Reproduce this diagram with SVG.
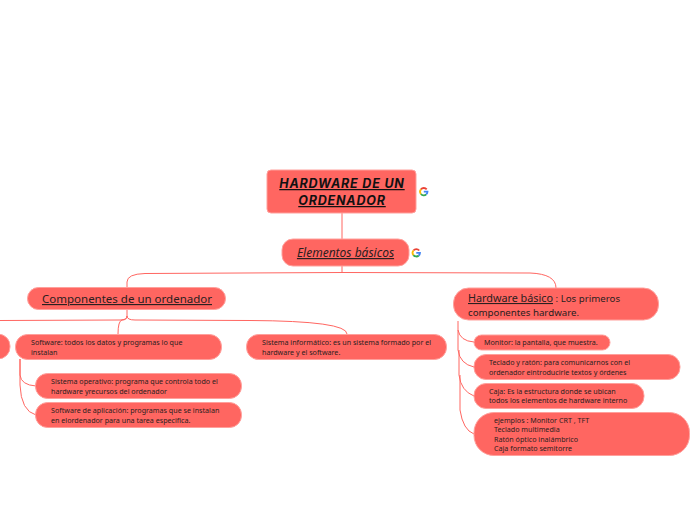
<svg xmlns="http://www.w3.org/2000/svg" width="697" height="520" viewBox="0 0 697 520">
<style>
.n{fill:#ff6661;stroke:#ffa09c;stroke-width:1}
.c{fill:none;stroke:#ff6661;stroke-width:1}
text{font-family:"Noto Sans","Open Sans",sans-serif;fill:#2a2020}
.s{font-size:7.15px}
.u{text-decoration:underline}
.gi path{fill:none;stroke-width:1.800}
</style>
<defs>
<g id="gicon" class="gi">
<path d="M2.900 -2.300A3.700 3.700 0 0 0 -2.900 -2.300" stroke="#ea4335"/>
<path d="M-2.900 -2.300A3.700 3.700 0 0 0 -2.900 2.300" stroke="#fbbc05"/>
<path d="M-2.900 2.300A3.700 3.700 0 0 0 2.500 2.700" stroke="#34a853"/>
<path d="M2.500 2.700A3.700 3.700 0 0 0 3.700 0H0" stroke="#4285f4"/>
</g>
</defs>
<rect width="697" height="520" fill="#fff"/>
<g id="connectors">
<path class="c" d="M342 213V239"/>
<path class="c" d="M342 266V272"/>
<path class="c" d="M127 288V282Q127 274 145 273.500L342 272.500L530 273Q556 274 556 288"/>
<path class="c" d="M127 309V316Q127 320 120 320L0 320.500"/>
<path class="c" d="M127 316Q127 320 135 320L250 320.500Q347 321 347 334"/>
<path class="c" d="M127 316Q127 320 122 320Q118 321 118 334"/>
<path class="c" d="M20 359V375Q21 385 36 386"/>
<path class="c" d="M20 359V385Q21 411 36 415"/>
<path class="c" d="M458 321V330Q460 341 474 342"/>
<path class="c" d="M458 330V350Q460 364 474 367"/>
<path class="c" d="M459 350V375Q461 391 474 396"/>
<path class="c" d="M460 375V410Q463 430 474 434"/>
</g>
<g id="root"><rect class="n" x="267" y="170" width="149" height="43" rx="4"/>
<text x="342" y="188" text-anchor="middle" font-size="12.500" font-weight="700" font-style="italic" letter-spacing=".8" class="u" style="font-family:Inter,'Noto Sans',sans-serif;fill:#111">HARDWARE DE UN</text>
<text x="342" y="205" text-anchor="middle" font-size="12.500" font-weight="700" font-style="italic" letter-spacing=".8" class="u" style="font-family:Inter,'Noto Sans',sans-serif;fill:#111">ORDENADOR</text></g>
<use id="g1" href="#gicon" x="423.800" y="191.700"/>
<g id="elementos"><rect class="n" x="282" y="239" width="127" height="27" rx="11"/>
<text x="345.500" y="257" text-anchor="middle" font-size="12" font-style="italic" class="u">Elementos básicos</text></g>
<use id="g2" href="#gicon" x="416.300" y="252.800"/>
<g id="componentes"><rect class="n" x="27.500" y="287.500" width="198" height="22" rx="11"/>
<text x="127" y="303" text-anchor="middle" font-size="11.500" class="u">Componentes de un ordenador</text></g>
<g id="cut"><rect class="n" x="-30" y="334" width="40" height="25" rx="12"/></g>
<g id="software"><rect class="n" x="15.500" y="334.500" width="206" height="25" rx="12"/>
<text class="s" x="31" y="345">Software: todos los datos y programas lo que</text>
<text class="s" x="31" y="355">instalan</text></g>
<g id="so"><rect class="n" x="35.500" y="373.500" width="206" height="25" rx="12"/>
<text class="s" x="51" y="384">Sistema operativo: programa que controla todo el</text>
<text class="s" x="51" y="394">hardware yrecursos del ordenador</text></g>
<g id="app"><rect class="n" x="35.500" y="402.500" width="206" height="25" rx="12"/>
<text class="s" x="51" y="413">Software de aplicación: programas que se instalan</text>
<text class="s" x="51" y="423">en elordenador para una tarea especifica.</text></g>
<g id="sistema"><rect class="n" x="246.500" y="334.500" width="200" height="25" rx="12"/>
<text class="s" x="262" y="345">Sistema informático: es un sistema formado por el</text>
<text class="s" x="262" y="355">hardware y el software.</text></g>
<g id="hardware"><rect class="n" x="453.500" y="288" width="205" height="32" rx="15"/>
<text x="468" y="302" font-size="9.700"><tspan class="u" font-size="10.800">Hardware básico</tspan> : Los primeros</text>
<text x="468" y="316" font-size="9.700">componentes hardware.</text></g>
<g id="monitor"><rect class="n" x="474" y="335" width="136" height="15" rx="7.500"/>
<text class="s" x="484" y="345">Monitor: la pantalla, que muestra.</text></g>
<g id="teclado"><rect class="n" x="474" y="354.500" width="206" height="25" rx="12"/>
<text class="s" x="489" y="365">Teclado y ratón: para comunicarnos con el</text>
<text class="s" x="489" y="375">ordenador eintroducirle textos y órdenes</text></g>
<g id="caja"><rect class="n" x="474" y="383.500" width="170" height="25" rx="12"/>
<text class="s" x="489" y="394">Caja: Es la estructura donde se ubican</text>
<text class="s" x="489" y="403">todos los elementos de hardware interno</text></g>
<g id="ejemplos"><rect class="n" x="474" y="412.500" width="215.500" height="43" rx="20"/>
<text class="s" x="494" y="423">ejemplos : Monitor CRT , TFT</text>
<text class="s" x="494" y="432">Teclado multimedia</text>
<text class="s" x="494" y="442">Ratón óptico inalámbrico</text>
<text class="s" x="494" y="451">Caja formato semitorre</text></g>
</svg>
